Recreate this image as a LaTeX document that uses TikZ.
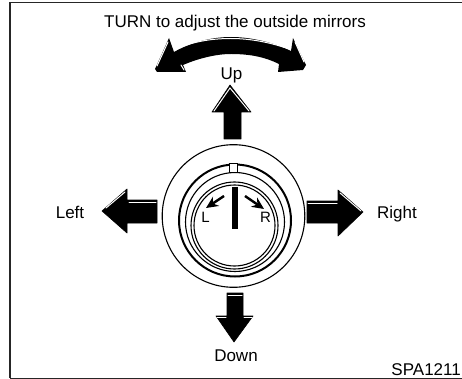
\documentclass[tikz,border=0pt]{standalone}
\usepackage{fontspec}
\setmainfont{Liberation Sans}
\usetikzlibrary{arrows.meta}
\tikzset{
  lbl/.style={inner sep=0pt,font=\fontsize{17}{19}\selectfont,text=black},
  knoblbl/.style={inner sep=0pt,font=\fontsize{15}{17}\selectfont,text=black},
  ring/.style={draw=black,line width=1.1pt,fill=none},
  thickring/.style={draw=black,line width=2pt,fill=none},
  solid arrow/.style={fill=black,draw=black,line width=0.6pt,line join=round},
  glint/.style={draw=white,line width=1pt,line cap=round},
  smallarrow/.style={draw=black,line width=2.4pt,-{Stealth[length=12pt,width=11pt]}}
}
\begin{document}
\begin{tikzpicture}[x=1pt,y=-1pt]
\useasboundingbox (0,0) rectangle (462,379);
\fill[white] (0,0) rectangle (462,379);
% frame
\draw[black!85,line width=1.6pt] (10,378) -- (10,2.5) -- (462,2.5);
\draw[black!85,line width=1.4pt] (10,378.2) -- (462,378.2);
% curved double arrow
\fill[black] (157,72) -- (155,69) -- (169,38) -- (174,52)
  .. controls (190,43) and (210,37) .. (231,37)
  .. controls (252,37) and (275,43) .. (291,51)
  -- (293,38) -- (306,65) -- (303,70) -- (278,72) -- (279,64)
  .. controls (265,57) and (250,54) .. (231,54)
  .. controls (215,54) and (197,59) .. (183,65) -- (186,72) -- cycle;
\draw[glint] (157,66) -- (168,42);
\draw[glint] (176,49) .. controls (192,42) and (210,38.5) .. (231,38.5) .. controls (252,38.5) and (272,43) .. (289,49);
\draw[glint] (295,42) -- (304,62);
\draw[glint] (181,65) -- (184,70);
% straight arrows
\fill[solid arrow] (230,85) -- (251,112) -- (241,112) -- (241,139) -- (224,139) -- (224,112) -- (212,112) -- cycle;
\draw[glint] (214,111) -- (230,88) -- (249,111);
\fill[solid arrow] (102,211) -- (127,189) -- (127,200) -- (157,200) -- (157,223) -- (127,223) -- (127,233) -- cycle;
\draw[glint] (106,208) -- (125,192);
\draw[glint] (129,202) -- (156,202);
\fill[solid arrow] (363,212) -- (338,236) -- (338,223) -- (307,223) -- (307,201) -- (338,201) -- (338,190) -- cycle;
\draw[glint] (340,193) -- (361,211);
\draw[glint] (308,203) -- (337,203);
\fill[solid arrow] (234,342) -- (216,316) -- (227,316) -- (227,293) -- (243,293) -- (243,316) -- (253,316) -- cycle;
\draw[glint] (228,295) -- (242,295);
\draw[glint] (217,317.5) -- (226,317.5);
\draw[glint] (244,317.5) -- (252,317.5);
% knob rings
\draw[ring] (233.5,216) circle (71.3);
\draw[thickring] (235,220.5) circle (56);
\draw[ring] (235,222) circle (49.5);
\draw[ring] (234.5,225.5) circle (43.5);
\draw[ring] (234.5,225.5) circle (40.5);
% index mark
\fill[white,draw=black,line width=0.9pt] (229.5,163.5) rectangle (237.5,172.5);
% needle
\fill[black] (232,187) rectangle (238,229);
% small arrows
\coordinate (la) at (224,196);
\coordinate (lb) at (206,208);
\coordinate (ra) at (245,196);
\coordinate (rb) at (264,209);
\draw[smallarrow] (la) -- (lb);
\draw[smallarrow] (ra) -- (rb);
% labels
\node[lbl,anchor=base] (turn) at (235,27.5) {TURN to adjust the outside mirrors};
\node[lbl,anchor=base] (up) at (231.5,80) {Up};
\node[lbl,anchor=base] (left) at (70,218) {Left};
\node[lbl,anchor=base] (right) at (397,218) {Right};
\node[lbl,anchor=base] (down) at (236,361) {Down};
\node[lbl,anchor=base east] (code) at (461,375) {SPA1211};
\node[knoblbl,anchor=base] (l) at (205.5,222.5) {L};
\node[knoblbl,anchor=base] (r) at (265.5,222.5) {R};
\end{tikzpicture}
\end{document}
